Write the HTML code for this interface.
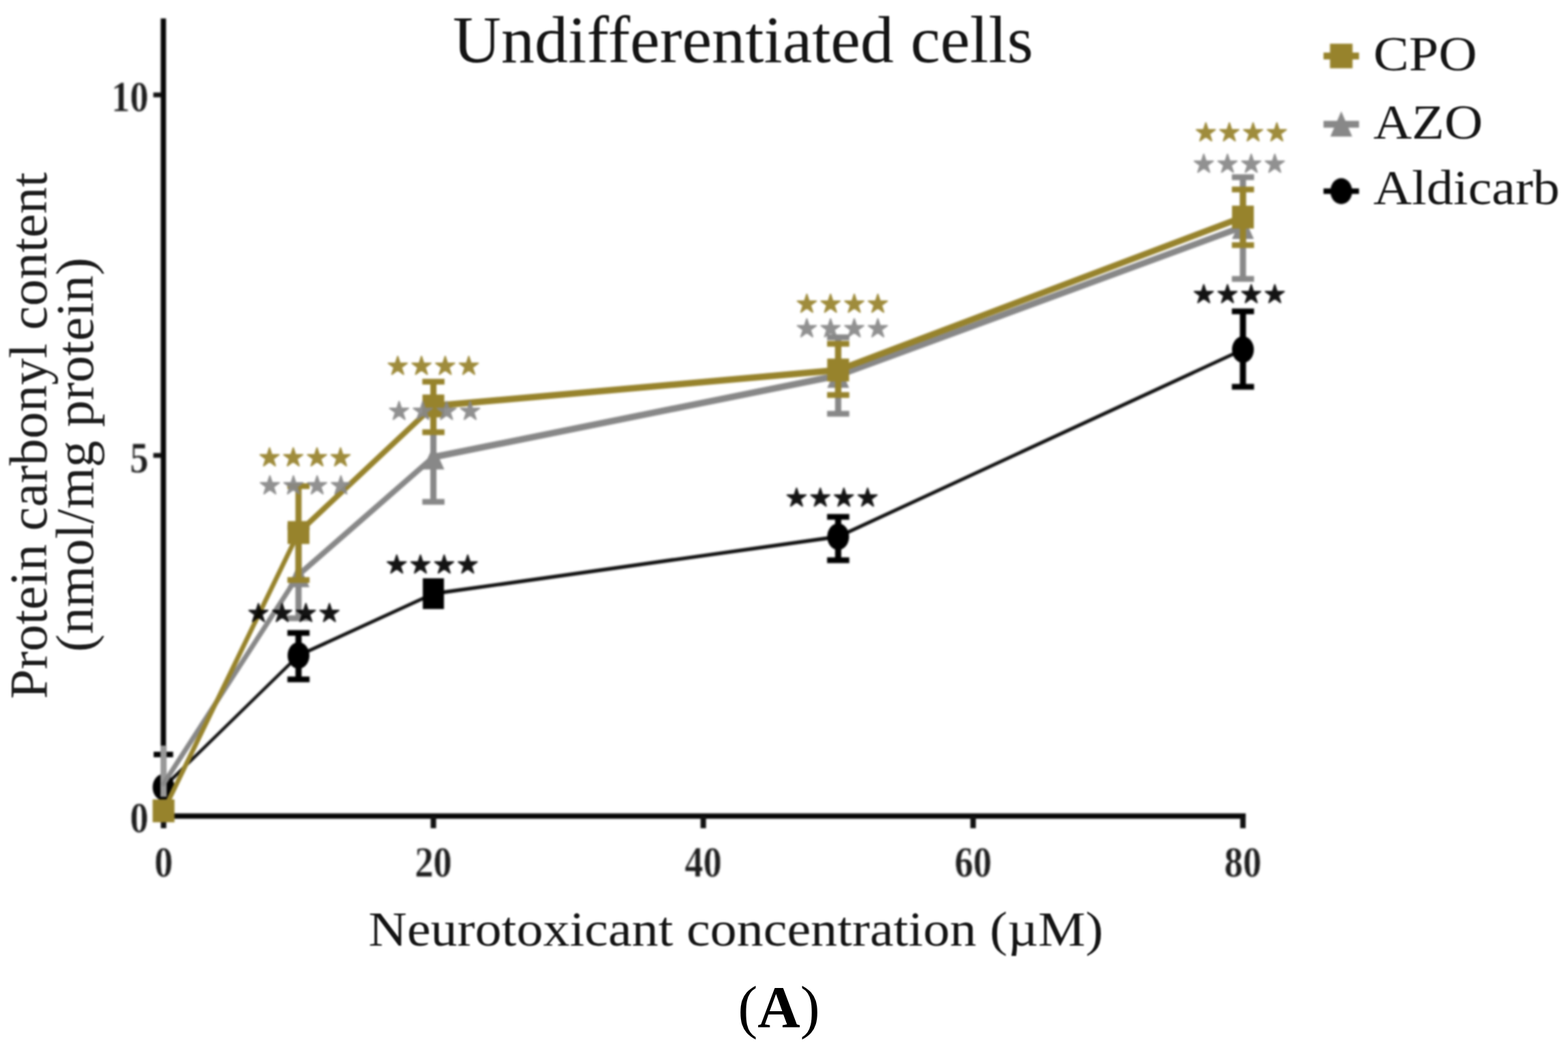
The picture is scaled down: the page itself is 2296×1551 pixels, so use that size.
<!DOCTYPE html>
<html lang="en">
<head>
<meta charset="utf-8">
<title>Undifferentiated cells - Protein carbonyl content</title>
<style>
html,body{margin:0;padding:0;background:#fff;}
body{width:2296px;height:1551px;overflow:hidden;}
svg{display:block;}
.t{font-family:"Liberation Serif",serif;fill:#141414;}
.ty{fill:#1c1c1c;}
.ta{fill:#000;}
.tk{font-family:"Liberation Serif",serif;font-weight:700;font-size:64px;fill:#1e1e1e;stroke:#fff;stroke-width:0.5px;}
.st{font-family:"DejaVu Sans",sans-serif;font-size:36px;letter-spacing:2.4px;stroke-width:2px;stroke-linejoin:round;opacity:0.92;}
.plot{filter:blur(1.6px);}
.soft{filter:blur(1.1px);}
</style>
</head>
<body>
<svg width="2296" height="1551" viewBox="0 0 2296 1551">
<rect x="0" y="0" width="2296" height="1551" fill="#ffffff"/>
<g class="plot">
<rect x="235.3" y="27" width="7.8" height="1172.1" fill="#060606"/>
<rect x="235.3" y="1191.3" width="1588.8" height="7.8" fill="#060606"/>
<rect x="235.5" y="1195" width="8" height="18" fill="#111"/>
<rect x="630.6" y="1195" width="8" height="18" fill="#111"/>
<rect x="1025.8" y="1195" width="8" height="18" fill="#111"/>
<rect x="1420.9" y="1195" width="8" height="18" fill="#111"/>
<rect x="1816.0" y="1195" width="8" height="18" fill="#111"/>
<rect x="224.5" y="135.5" width="12" height="7" fill="#111"/>
<rect x="224.5" y="663.5" width="12" height="7" fill="#111"/>
<rect x="224.5" y="1191.5" width="12" height="7" fill="#111"/>
<text class="tk" transform="translate(217.5,163.3) scale(0.85,1)" text-anchor="end">10</text>
<text class="tk" transform="translate(217.5,692.0) scale(0.85,1)" text-anchor="end">5</text>
<text class="tk" transform="translate(217.5,1219.0) scale(0.85,1)" text-anchor="end">0</text>
<text class="tk" transform="translate(239.5,1284.0) scale(0.85,1)" text-anchor="middle">0</text>
<text class="tk" transform="translate(634.6,1284.0) scale(0.85,1)" text-anchor="middle">20</text>
<text class="tk" transform="translate(1029.8,1284.0) scale(0.85,1)" text-anchor="middle">40</text>
<text class="tk" transform="translate(1424.9,1284.0) scale(0.85,1)" text-anchor="middle">60</text>
<text class="tk" transform="translate(1820.0,1284.0) scale(0.85,1)" text-anchor="middle">80</text>
<line x1="239.5" y1="1153.0" x2="437.1" y2="960.0" stroke="#111" stroke-width="4.56" stroke-linecap="round"/>
<line x1="437.1" y1="960.0" x2="634.6" y2="869.5" stroke="#111" stroke-width="5.14" stroke-linecap="round"/>
<line x1="634.6" y1="869.5" x2="1227.3" y2="786.0" stroke="#111" stroke-width="5.41" stroke-linecap="round"/>
<line x1="1227.3" y1="786.0" x2="1820.0" y2="512.0" stroke="#111" stroke-width="5.14" stroke-linecap="round"/>
<rect x="225" y="1101" width="28.5" height="8" fill="#000"/>
<rect x="432.6" y="927.0" width="9" height="68.0" fill="#000000"/>
<rect x="420.8" y="922.8" width="32.5" height="8.4" fill="#000000"/>
<rect x="420.8" y="990.8" width="32.5" height="8.4" fill="#000000"/>
<rect x="1222.8" y="757.0" width="9" height="63.5" fill="#000000"/>
<rect x="1211.1" y="752.8" width="32.5" height="8.4" fill="#000000"/>
<rect x="1211.1" y="816.3" width="32.5" height="8.4" fill="#000000"/>
<rect x="1815.5" y="456.0" width="9" height="110.5" fill="#000000"/>
<rect x="1803.8" y="451.8" width="32.5" height="8.4" fill="#000000"/>
<rect x="1803.8" y="562.3" width="32.5" height="8.4" fill="#000000"/>
<ellipse cx="239.5" cy="1153.0" rx="16" ry="19.5" fill="#000000"/>
<ellipse cx="437.1" cy="960.0" rx="16" ry="19.5" fill="#000000"/>
<rect x="619.1" y="847.0" width="31" height="45" fill="#000000"/>
<ellipse cx="1227.3" cy="786.0" rx="16" ry="19.5" fill="#000000"/>
<ellipse cx="1820.0" cy="512.0" rx="16" ry="19.5" fill="#000000"/>
<rect x="235" y="1092" width="9" height="75" fill="#999"/>
<line x1="239.5" y1="1148.0" x2="437.1" y2="842.0" stroke="#888888" stroke-width="7.25" stroke-linecap="round"/>
<line x1="437.1" y1="842.0" x2="634.6" y2="669.5" stroke="#888888" stroke-width="8.24" stroke-linecap="round"/>
<line x1="634.6" y1="669.5" x2="1227.3" y2="550.0" stroke="#888888" stroke-width="9.49" stroke-linecap="round"/>
<line x1="1227.3" y1="550.0" x2="1820.0" y2="332.0" stroke="#888888" stroke-width="9.24" stroke-linecap="round"/>
<rect x="432.6" y="772.0" width="9" height="133.5" fill="#888888"/>
<rect x="420.8" y="767.8" width="32.5" height="8.4" fill="#888888"/>
<rect x="420.8" y="901.3" width="32.5" height="8.4" fill="#888888"/>
<rect x="630.1" y="604.0" width="9" height="131.0" fill="#888888"/>
<rect x="618.4" y="599.8" width="32.5" height="8.4" fill="#888888"/>
<rect x="618.4" y="730.8" width="32.5" height="8.4" fill="#888888"/>
<rect x="1222.8" y="494.0" width="9" height="112.0" fill="#888888"/>
<rect x="1211.1" y="489.8" width="32.5" height="8.4" fill="#888888"/>
<rect x="1211.1" y="601.8" width="32.5" height="8.4" fill="#888888"/>
<rect x="1815.5" y="259.5" width="9" height="149.0" fill="#888888"/>
<rect x="1803.8" y="255.3" width="32.5" height="8.4" fill="#888888"/>
<rect x="1803.8" y="404.3" width="32.5" height="8.4" fill="#888888"/>
<polygon points="437.1,825.0 453.1,860.0 421.1,860.0" fill="#888888"/>
<polygon points="634.6,652.5 650.6,687.5 618.6,687.5" fill="#888888"/>
<polygon points="1227.3,533.0 1243.3,568.0 1211.3,568.0" fill="#888888"/>
<polygon points="1820.0,315.0 1836.0,350.0 1804.0,350.0" fill="#888888"/>
<line x1="239.5" y1="1187.5" x2="437.1" y2="780.0" stroke="#97832c" stroke-width="6.83" stroke-linecap="round"/>
<line x1="437.1" y1="780.0" x2="634.6" y2="594.5" stroke="#97832c" stroke-width="8.11" stroke-linecap="round"/>
<line x1="634.6" y1="594.5" x2="1227.3" y2="542.0" stroke="#97832c" stroke-width="9.58" stroke-linecap="round"/>
<line x1="1227.3" y1="542.0" x2="1820.0" y2="318.0" stroke="#97832c" stroke-width="9.23" stroke-linecap="round"/>
<rect x="432.6" y="712.0" width="9" height="137.5" fill="#97832c"/>
<rect x="420.8" y="707.8" width="32.5" height="8.4" fill="#97832c"/>
<rect x="420.8" y="845.3" width="32.5" height="8.4" fill="#97832c"/>
<rect x="630.1" y="559.0" width="9" height="74.0" fill="#97832c"/>
<rect x="618.4" y="554.8" width="32.5" height="8.4" fill="#97832c"/>
<rect x="618.4" y="628.8" width="32.5" height="8.4" fill="#97832c"/>
<rect x="1222.8" y="503.5" width="9" height="75.0" fill="#97832c"/>
<rect x="1211.1" y="499.3" width="32.5" height="8.4" fill="#97832c"/>
<rect x="1211.1" y="574.3" width="32.5" height="8.4" fill="#97832c"/>
<rect x="1815.5" y="277.5" width="9" height="81.5" fill="#97832c"/>
<rect x="1803.8" y="273.3" width="32.5" height="8.4" fill="#97832c"/>
<rect x="1803.8" y="354.8" width="32.5" height="8.4" fill="#97832c"/>
<rect x="223.5" y="1170.8" width="32" height="33.5" fill="#97832c"/>
<rect x="421.1" y="763.2" width="32" height="33.5" fill="#97832c"/>
<rect x="618.6" y="577.8" width="32" height="33.5" fill="#97832c"/>
<rect x="1211.3" y="525.2" width="32" height="33.5" fill="#97832c"/>
<rect x="1804.0" y="301.2" width="32" height="33.5" fill="#97832c"/>
<text class="st" x="431.7" y="909.5" fill="#000000" stroke="#000000" text-anchor="middle">★★★★</text>
<text class="st" x="634.2" y="838.9" fill="#000000" stroke="#000000" text-anchor="middle">★★★★</text>
<text class="st" x="1219.6" y="741.2" fill="#000000" stroke="#000000" text-anchor="middle">★★★★</text>
<text class="st" x="1815.9" y="443.0" fill="#000000" stroke="#000000" text-anchor="middle">★★★★</text>
<text class="st" x="448.3" y="722.9" fill="#888888" stroke="#888888" text-anchor="middle">★★★★</text>
<text class="st" x="637.7" y="614.2" fill="#888888" stroke="#888888" text-anchor="middle">★★★★</text>
<text class="st" x="1234.7" y="493.2" fill="#888888" stroke="#888888" text-anchor="middle">★★★★</text>
<text class="st" x="1815.9" y="251.6" fill="#888888" stroke="#888888" text-anchor="middle">★★★★</text>
<text class="st" x="447.9" y="681.7" fill="#97832c" stroke="#97832c" text-anchor="middle">★★★★</text>
<text class="st" x="635.7" y="548.2" fill="#97832c" stroke="#97832c" text-anchor="middle">★★★★</text>
<text class="st" x="1234.7" y="457.2" fill="#97832c" stroke="#97832c" text-anchor="middle">★★★★</text>
<text class="st" x="1818.8" y="205.8" fill="#97832c" stroke="#97832c" text-anchor="middle">★★★★</text>
<rect x="1938" y="77" width="52" height="10" fill="#97832c"/>
<rect x="1947.5" y="64" width="33" height="36" fill="#97832c"/>
<rect x="1938" y="177" width="52" height="10" fill="#888888"/>
<polygon points="1964,163 1980,200 1948,200" fill="#888888"/>
<rect x="1938" y="276" width="52" height="8" fill="#000000"/>
<ellipse cx="1964" cy="280" rx="16" ry="19" fill="#000000"/>
</g>
<g class="soft">
<text class="t" x="1088" y="91" font-size="98" text-anchor="middle">Undifferentiated cells</text>
<text class="t" transform="translate(2011,102.5) scale(1,0.92)" font-size="78">CPO</text>
<text class="t" transform="translate(2011,202.5) scale(1,0.92)" font-size="78">AZO</text>
<text class="t" transform="translate(2011,299) scale(1,0.92)" font-size="78">Aldicarb</text>
<text class="t ty" transform="translate(67.5,638) rotate(-90)" font-size="78.5" text-anchor="middle">Protein carbonyl content</text>
<text class="t ty" transform="translate(135.5,666) rotate(-90)" font-size="78.5" text-anchor="middle">(nmol/mg protein)</text>
<text class="t" transform="translate(1077.5,1385.3) scale(1,0.92)" font-size="78" text-anchor="middle">Neurotoxicant concentration (µM)</text>
</g>
<text class="t ta" x="1140.5" y="1503.8" font-size="86.5" text-anchor="middle">(<tspan font-weight="700">A</tspan>)</text>
</svg>
</body>
</html>
